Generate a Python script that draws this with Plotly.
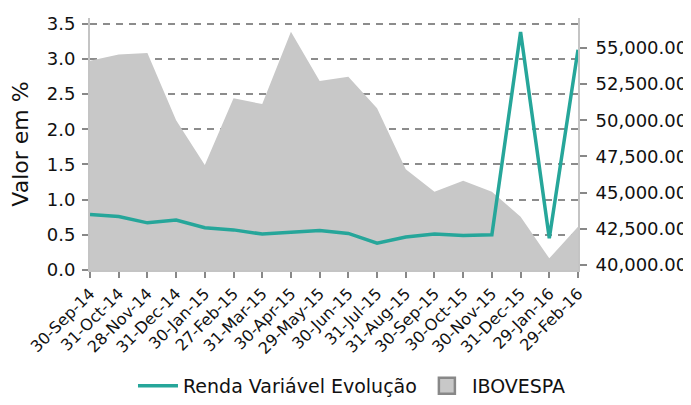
import plotly.graph_objects as go

dates = ["30-Sep-14", "31-Oct-14", "28-Nov-14", "31-Dec-14", "30-Jan-15", "27-Feb-15",
         "31-Mar-15", "30-Apr-15", "29-May-15", "30-Jun-15", "31-Jul-15", "31-Aug-15",
         "30-Sep-15", "30-Oct-15", "30-Nov-15", "31-Dec-15", "29-Jan-16", "29-Feb-16"]

renda_variavel = [0.79, 0.76, 0.67, 0.71, 0.60, 0.57, 0.51, 0.54, 0.56, 0.52,
                  0.38, 0.47, 0.51, 0.49, 0.50, 3.38, 0.45, 3.13]

ibovespa = [54115, 54550, 54650, 50010, 46908, 51520, 51120, 56120, 52710, 53010,
            50830, 46610, 45065, 45830, 45070, 43340, 40460, 42640]

pct_ticks = [0.0, 0.5, 1.0, 1.5, 2.0, 2.5, 3.0, 3.5]
ibov_ticks = [40000, 42500, 45000, 47500, 50000, 52500, 55000]

TEAL = "#26a69a"
AREA = "#c8c8c8"
FONT = "DejaVu Sans"

fig = go.Figure()

fig.add_trace(go.Scatter(
    x=dates, y=renda_variavel, name="Renda Variável Evolução",
    mode="lines", line=dict(color=TEAL, width=3.5), yaxis="y2",
))
fig.add_trace(go.Scatter(
    x=dates, y=ibovespa, name="IBOVESPA", mode="lines",
    line=dict(width=0, color=AREA), fill="tozeroy", fillcolor=AREA,
    yaxis="y", showlegend=False,
))
fig.add_trace(go.Scatter(
    x=[None], y=[None], name="IBOVESPA", mode="markers",
    marker=dict(symbol="square", size=16, color=AREA, line=dict(color="#888888", width=2.5)),
    yaxis="y",
))

fig.update_layout(
    width=683, height=397,
    margin=dict(l=82, r=113, t=10, b=135, autoexpand=False),
    paper_bgcolor="white", plot_bgcolor="white",
    font=dict(family=FONT, size=18, color="#111111"),
    showlegend=True,
    legend=dict(orientation="h", xref="container", x=0.183, xanchor="left",
                yref="container", y=-0.063, yanchor="bottom",
                font=dict(size=19), itemsizing="trace", itemwidth=40),
    xaxis=dict(type="category", range=[0, len(dates) - 1], tickangle=-45,
               ticks="outside", ticklen=6, tickwidth=2, tickcolor="#888888",
               showline=True, linecolor="#c4c4c4", linewidth=2, automargin=False,
               showgrid=False, zeroline=False, tickfont=dict(size=16)),
    yaxis=dict(side="right", range=[39655, 57072], tickvals=ibov_ticks,
               tickformat=",.2f", ticks="outside", ticklen=7, tickwidth=2,
               tickcolor="#888888", showline=True, linecolor="#c4c4c4", linewidth=2,
               showgrid=False, zeroline=False, automargin=False, ticklabelstandoff=5),
    yaxis2=dict(overlaying="y", side="left", range=[0, 3.58], tickvals=pct_ticks,
                tickformat=".1f", ticks="outside", ticklen=6, tickwidth=2,
                tickcolor="#888888", showline=True, linecolor="#c4c4c4", linewidth=2,
                showgrid=True, gridcolor="#8c8c8c", gridwidth=1.5, griddash="7px,6px",
                zeroline=False, automargin=False, ticklabelstandoff=3,
                title=dict(text="Valor em %", standoff=19)),
)

fig.write_html("out.html")
